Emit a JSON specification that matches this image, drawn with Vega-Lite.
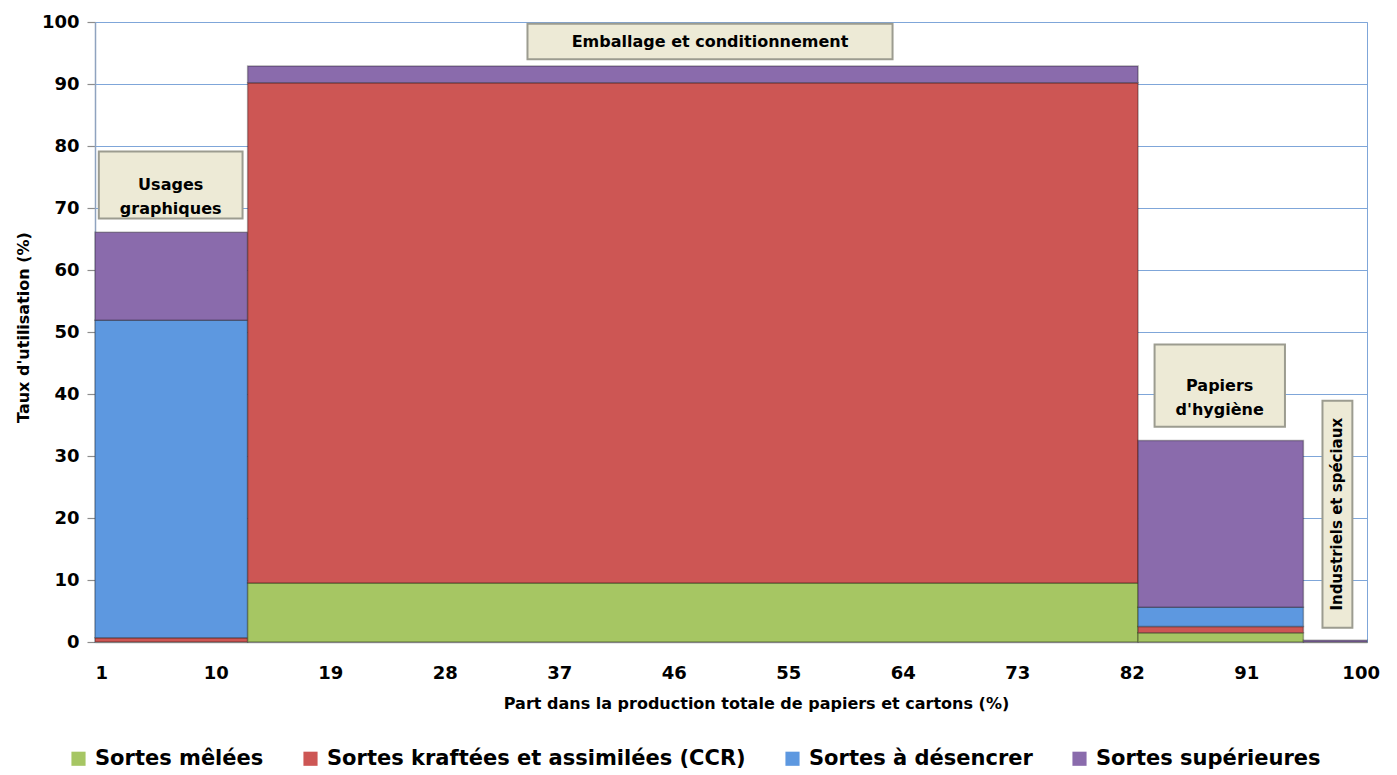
{
  "$schema": "https://vega.github.io/schema/vega-lite/v6.json",
  "width": 1272,
  "height": 620,
  "autosize": "none",
  "padding": {"left": 95, "top": 22, "right": 30, "bottom": 133},
  "background": "white",
  "config": {
    "font": "DejaVu Sans",
    "view": {"stroke": "#7FA6D9", "strokeWidth": 1}
  },
  "datasets": {
    "barres": [
      {"groupe": "Usages graphiques", "part_debut": 0, "part_fin": 12, "sorte": "Sortes mêlées", "ordre": 1, "taux": 0},
      {"groupe": "Usages graphiques", "part_debut": 0, "part_fin": 12, "sorte": "Sortes kraftées et assimilées (CCR)", "ordre": 2, "taux": 0.7},
      {"groupe": "Usages graphiques", "part_debut": 0, "part_fin": 12, "sorte": "Sortes à désencrer", "ordre": 3, "taux": 51.2},
      {"groupe": "Usages graphiques", "part_debut": 0, "part_fin": 12, "sorte": "Sortes supérieures", "ordre": 4, "taux": 14.2},
      {"groupe": "Emballage et conditionnement", "part_debut": 12, "part_fin": 82, "sorte": "Sortes mêlées", "ordre": 1, "taux": 9.5},
      {"groupe": "Emballage et conditionnement", "part_debut": 12, "part_fin": 82, "sorte": "Sortes kraftées et assimilées (CCR)", "ordre": 2, "taux": 80.7},
      {"groupe": "Emballage et conditionnement", "part_debut": 12, "part_fin": 82, "sorte": "Sortes à désencrer", "ordre": 3, "taux": 0},
      {"groupe": "Emballage et conditionnement", "part_debut": 12, "part_fin": 82, "sorte": "Sortes supérieures", "ordre": 4, "taux": 2.7},
      {"groupe": "Papiers d'hygiène", "part_debut": 82, "part_fin": 95, "sorte": "Sortes mêlées", "ordre": 1, "taux": 1.5},
      {"groupe": "Papiers d'hygiène", "part_debut": 82, "part_fin": 95, "sorte": "Sortes kraftées et assimilées (CCR)", "ordre": 2, "taux": 1.0},
      {"groupe": "Papiers d'hygiène", "part_debut": 82, "part_fin": 95, "sorte": "Sortes à désencrer", "ordre": 3, "taux": 3.1},
      {"groupe": "Papiers d'hygiène", "part_debut": 82, "part_fin": 95, "sorte": "Sortes supérieures", "ordre": 4, "taux": 26.9},
      {"groupe": "Industriels et spéciaux", "part_debut": 95, "part_fin": 100, "sorte": "Sortes mêlées", "ordre": 1, "taux": 0},
      {"groupe": "Industriels et spéciaux", "part_debut": 95, "part_fin": 100, "sorte": "Sortes kraftées et assimilées (CCR)", "ordre": 2, "taux": 0},
      {"groupe": "Industriels et spéciaux", "part_debut": 95, "part_fin": 100, "sorte": "Sortes à désencrer", "ordre": 3, "taux": 0},
      {"groupe": "Industriels et spéciaux", "part_debut": 95, "part_fin": 100, "sorte": "Sortes supérieures", "ordre": 4, "taux": 0.3}
    ],
    "etiquettes": [
      {"texte": "Usages\ngraphiques", "x0": 0.3, "x1": 11.6, "y0": 68.3, "y1": 79.1, "xc": 5.95, "yc": 73.7, "vertical": false},
      {"texte": "Emballage et conditionnement", "x0": 34.0, "x1": 62.7, "y0": 94.0, "y1": 99.7, "xc": 48.35, "yc": 96.85, "vertical": false},
      {"texte": "Papiers\nd'hygiène", "x0": 83.3, "x1": 93.55, "y0": 34.7, "y1": 48.0, "xc": 88.42, "yc": 41.35, "vertical": false},
      {"texte": "Industriels et spéciaux", "x0": 96.5, "x1": 98.85, "y0": 2.3, "y1": 38.9, "xc": 97.68, "yc": 20.6, "vertical": true}
    ]
  },
  "layer": [
    {
      "data": {"name": "barres"},
      "transform": [
        {"stack": "taux", "groupby": ["groupe"], "sort": [{"field": "ordre"}], "as": ["bas", "haut"]},
        {"filter": "datum.taux > 0"}
      ],
      "mark": {"type": "rect", "stroke": "#000000", "strokeOpacity": 0.3, "strokeWidth": 1.5},
      "encoding": {
        "x": {
          "field": "part_debut", "type": "quantitative",
          "scale": {"domain": [0, 100], "nice": false, "zero": false},
          "axis": {
            "values": [0.5, 9.5, 18.5, 27.5, 36.5, 45.5, 54.5, 63.5, 72.5, 81.5, 90.5, 99.5],
            "labelExpr": "format(datum.value + 0.5, 'd')",
            "ticks": false, "grid": false,
            "domainColor": "#A6A6A6", "domainWidth": 1.5,
            "labelFontSize": 18, "labelFontWeight": "bold", "labelColor": "#000000",
            "labelPadding": 22, "labelFlush": false,
            "title": "Part dans la production totale de papiers et cartons (%)",
            "titleFontSize": 16, "titleFontWeight": "bold", "titleColor": "#000000",
            "titlePadding": 13, "titleX": 661
          }
        },
        "x2": {"field": "part_fin"},
        "y": {
          "field": "bas", "type": "quantitative",
          "scale": {"domain": [0, 100], "nice": false},
          "axis": {
            "values": [0, 10, 20, 30, 40, 50, 60, 70, 80, 90, 100],
            "grid": true, "gridColor": "#7FA6D9", "gridWidth": 1.2,
            "domainColor": "#8FA3BF", "domainWidth": 1.5,
            "tickColor": "#8C8C8C", "tickSize": 8, "tickWidth": 1.2,
            "labelFontSize": 18, "labelFontWeight": "bold", "labelColor": "#000000",
            "labelPadding": 8,
            "title": "Taux d'utilisation (%)",
            "titleFontSize": 16, "titleFontWeight": "bold", "titleColor": "#000000",
            "titlePadding": 10, "titleY": 305
          }
        },
        "y2": {"field": "haut"},
        "color": {
          "field": "sorte", "type": "nominal",
          "scale": {
            "domain": ["Sortes mêlées", "Sortes kraftées et assimilées (CCR)", "Sortes à désencrer", "Sortes supérieures"],
            "range": ["#A6C663", "#CD5654", "#5D98E0", "#8A6BAC"]
          },
          "legend": {
            "orient": "none", "legendX": -27, "legendY": 726,
            "direction": "horizontal", "title": null,
            "symbolType": "square", "symbolSize": 200, "symbolStrokeWidth": 0,
            "labelFontSize": 21, "labelFontWeight": "bold", "labelColor": "#000000",
            "labelLimit": 0, "columnPadding": 36, "labelOffset": 6
          }
        }
      }
    },
    {
      "data": {"name": "etiquettes"},
      "mark": {"type": "rect", "fill": "#EDEAD6", "stroke": "#9C9C90", "strokeWidth": 2},
      "encoding": {
        "x": {"field": "x0", "type": "quantitative"},
        "x2": {"field": "x1"},
        "y": {"field": "y0", "type": "quantitative"},
        "y2": {"field": "y1"}
      }
    },
    {
      "data": {"name": "etiquettes"},
      "transform": [{"filter": "!datum.vertical"}],
      "mark": {"type": "text", "fontSize": 16, "fontWeight": "bold", "color": "#000000", "lineBreak": "\n", "lineHeight": 24, "align": "center", "baseline": "middle"},
      "encoding": {
        "x": {"field": "xc", "type": "quantitative"},
        "y": {"field": "yc", "type": "quantitative"},
        "text": {"field": "texte", "type": "nominal"}
      }
    },
    {
      "data": {"name": "etiquettes"},
      "transform": [{"filter": "datum.vertical"}],
      "mark": {"type": "text", "fontSize": 15, "fontWeight": "bold", "color": "#000000", "angle": 270, "align": "center", "baseline": "middle"},
      "encoding": {
        "x": {"field": "xc", "type": "quantitative"},
        "y": {"field": "yc", "type": "quantitative"},
        "text": {"field": "texte", "type": "nominal"}
      }
    }
  ]
}
